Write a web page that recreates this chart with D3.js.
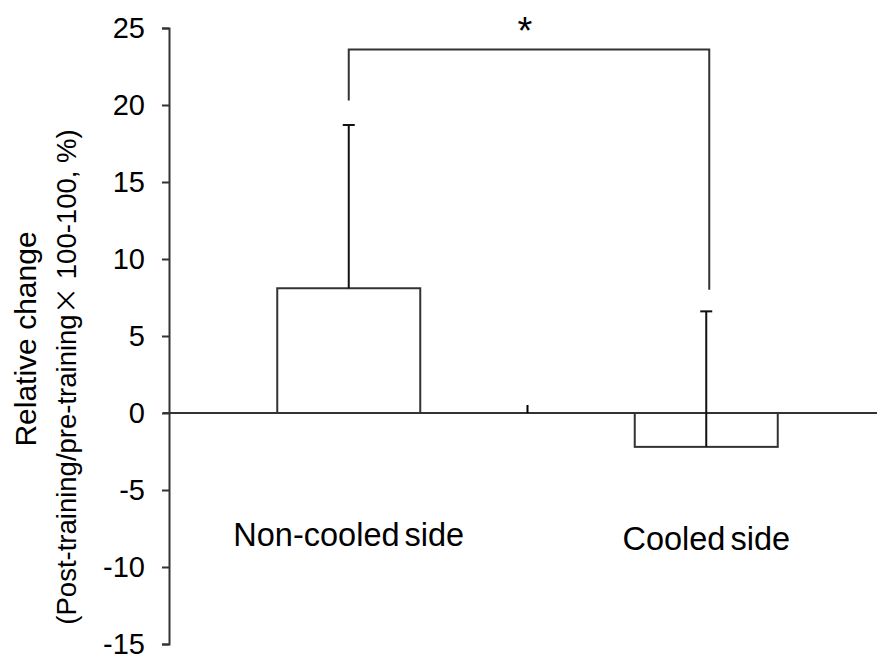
<!DOCTYPE html>
<html>
<head>
<meta charset="utf-8">
<script src="https://cdn.jsdelivr.net/npm/d3@7"></script>
<style>
  body { margin: 0; background: #fff; }
  svg { display: block; }
  text { font-family: "Liberation Sans", Arial, sans-serif; fill: #000; }
</style>
</head>
<body>
<script>
// data
var categories = ["Non-cooled side", "Cooled side"];
var means = [8.1, -2.2];
var sds = [10.6, 8.8];
var yTicks = [25, 20, 15, 10, 5, 0, -5, -10, -15];
// significance bracket: top, left end, right end (y values)
var bracket = [23.6, 20.3, 8.0];
var sigLabel = "*";

var w = 877;
var h = 659;
var lineColor = "#333";

var svg = d3.select("body")
            .append("svg")
            .attr("width", w)
            .attr("height", h);

var y = d3.scaleLinear()
          .domain([-15, 25])
          .range([644, 28]);

var x = d3.scaleBand()
          .domain(categories)
          .range([170, 885])
          .paddingInner(0.6)
          .paddingOuter(0.3);

// y axis
var yAxis = d3.axisLeft(y)
              .tickValues(yTicks)
              .tickSize(7)
              .tickPadding(17)
              .tickFormat(function(d) { return String(d); });

var gy = svg.append("g")
            .attr("transform", "translate(169,0)")
            .call(yAxis);
gy.select(".domain").attr("stroke", lineColor).attr("stroke-width", 2);
gy.selectAll(".tick line").attr("stroke", lineColor).attr("stroke-width", 2);
gy.selectAll(".tick text")
  .attr("font-size", "29px")
  .attr("font-family", "Liberation Sans, Arial, sans-serif")
  .attr("fill", "#000");

// bars
svg.selectAll("rect.bar")
  .data(categories)
  .enter()
  .append("rect")
  .attr("class", "bar")
  .attr("x", function(d) { return x(d); })
  .attr("y", function(d, i) { return y(Math.max(0, means[i])); })
  .attr("width", x.bandwidth())
  .attr("height", function(d, i) { return Math.abs(y(means[i]) - y(0)); })
  .attr("fill", "#fff")
  .attr("stroke", lineColor)
  .attr("stroke-width", 2);

// x axis line at zero
svg.append("line")
  .attr("x1", 163)
  .attr("x2", w)
  .attr("y1", y(0))
  .attr("y2", y(0))
  .attr("stroke", lineColor)
  .attr("stroke-width", 2.2);

// category boundary tick
var midX = (x(categories[0]) + x.bandwidth() + x(categories[1])) / 2;
svg.append("line")
  .attr("x1", midX)
  .attr("x2", midX)
  .attr("y1", y(0))
  .attr("y2", y(0) - 8)
  .attr("stroke", "#000")
  .attr("stroke-width", 2);

// error bars (upper only)
var err = svg.append("g");
categories.forEach(function(c, i) {
  var cx = x(c) + x.bandwidth() / 2;
  err.append("line")
    .attr("x1", cx).attr("x2", cx)
    .attr("y1", y(means[i]))
    .attr("y2", y(means[i] + sds[i]))
    .attr("stroke", "#111")
    .attr("stroke-width", 2);
  err.append("line")
    .attr("x1", cx - 6).attr("x2", cx + 6)
    .attr("y1", y(means[i] + sds[i]))
    .attr("y2", y(means[i] + sds[i]))
    .attr("stroke", "#111")
    .attr("stroke-width", 2);
});

// category labels
svg.selectAll("text.cat")
  .data(categories)
  .enter()
  .append("text")
  .attr("class", "cat")
  .attr("x", function(d) { return x(d) + x.bandwidth() / 2; })
  .attr("y", function(d, i) { return i == 0 ? 546 : 550; })
  .attr("text-anchor", "middle")
  .attr("font-size", "32.5px")
  .attr("word-spacing", "-4px")
  .text(function(d) { return d; });

// significance bracket
var bx1 = x(categories[0]) + x.bandwidth() / 2;
var bx2 = x(categories[1]) + x.bandwidth() / 2 + 3;
svg.append("path")
  .attr("d", "M" + bx1 + "," + y(bracket[1]) + "V" + y(bracket[0]) + "H" + bx2 + "V" + y(bracket[2]))
  .attr("fill", "none")
  .attr("stroke", lineColor)
  .attr("stroke-width", 2);

svg.append("text")
  .attr("x", (bx1 + bx2) / 2 - 4)
  .attr("y", 44)
  .attr("text-anchor", "middle")
  .attr("font-size", "38px")
  .text(sigLabel);

// y axis title
svg.append("text")
  .attr("transform", "translate(36,339) rotate(-90)")
  .attr("text-anchor", "middle")
  .attr("font-size", "30px")
  .text("Relative change");

var t2 = svg.append("text")
  .attr("transform", "translate(76,377) rotate(-90)")
  .attr("text-anchor", "middle")
  .attr("font-size", "27.5px");
t2.append("tspan").text("(Post-training/pre-training");
t2.append("tspan")
  .attr("font-family", "Noto Sans CJK JP, sans-serif")
  .text("\u00d7");
t2.append("tspan").text(" 100-100, %)");
</script>
</body>
</html>
